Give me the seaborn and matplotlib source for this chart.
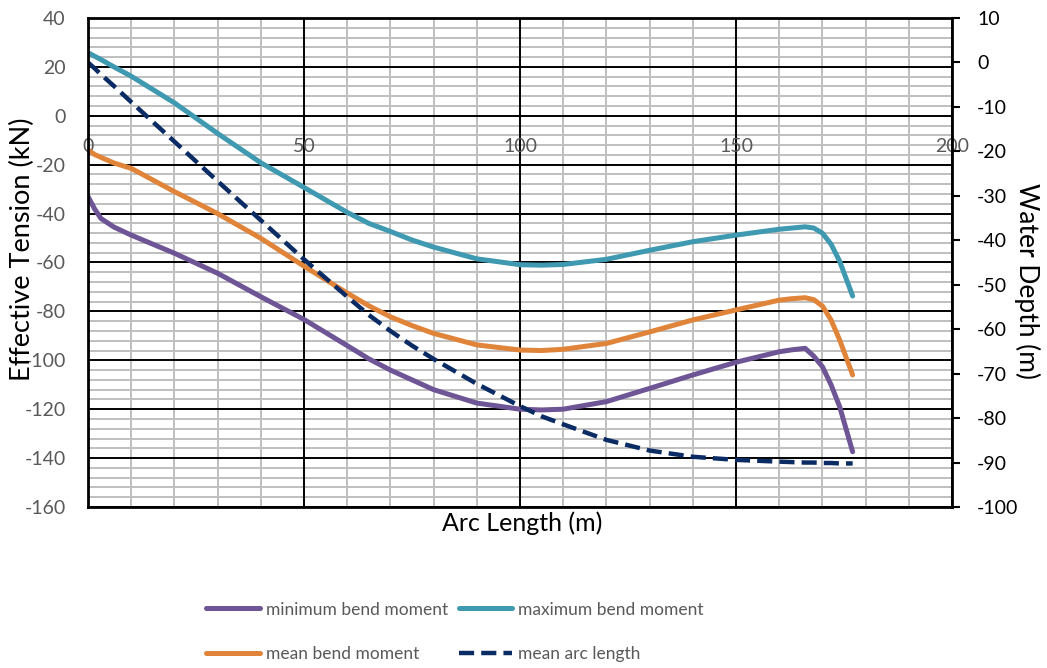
import matplotlib
matplotlib.use("Agg")
import matplotlib.pyplot as plt
import pandas as pd
import seaborn as sns
from matplotlib.ticker import MultipleLocator

# Arc length stations (m)
arc_length = [0, 1.5, 3, 6, 10, 20, 30, 40, 50, 60, 65, 70, 75, 80, 90, 100, 105, 110,
              120, 130, 140, 150, 160, 163, 166, 168, 170, 172, 174, 177]

# Effective tension envelopes (kN)
min_bend = [-33, -38, -42, -45.5, -48.8, -56.2, -64.4, -74, -83.3, -94, -99.4, -104,
            -108, -112, -117.5, -120, -120.3, -120, -116.9, -111.5, -106, -100.8,
            -96.5, -95.7, -95.1, -98.3, -102.6, -110, -119, -137.4]
max_bend = [25.8, 24.4, 23.0, 20.0, 16.2, 5.3, -7.2, -19.2, -29.3, -39.5, -44, -47.3,
            -50.8, -53.7, -58.5, -60.9, -61.1, -60.8, -58.7, -55, -51.5, -48.8, -46.4,
            -45.9, -45.4, -45.9, -48.0, -52.5, -59.5, -73.7]
mean_bend = [-14, -15.8, -17, -19.3, -21.5, -31, -40, -50.1, -61.5, -72.5, -77.7, -82.2,
             -85.8, -89, -93.7, -95.8, -96, -95.5, -93.1, -88.4, -83.5, -79.4, -75.4,
             -74.8, -74.4, -75.2, -77.8, -83.5, -91.7, -106]

# Water depth along the line (m)
water_depth = [0, -1.3, -2.7, -5.3, -8.9, -17.8, -26.7, -35.5, -44.3, -52.7, -56.8, -60.4,
               -63.7, -66.7, -72.3, -77.3, -79.6, -81.4, -84.9, -87.3, -88.7, -89.4,
               -89.8, -89.9, -90, -90, -90.1, -90.1, -90.2, -90.2]

series_names = ["minimum bend moment", "maximum bend moment", "mean bend moment"]
series_colors = ["#6E5596", "#3F99B1", "#E0843A"]
depth_name = "mean arc length"
depth_color = "#0A2B63"

x_ticks = [0, 50, 100, 150, 200]
left_ticks = list(range(-160, 41, 20))
right_ticks = list(range(-100, 11, 10))

sns.set_theme(style="white")
plt.rcParams["font.family"] = ["Lato", "DejaVu Sans"]
plt.rcParams["axes.unicode_minus"] = False

tension = pd.DataFrame({
    "arc": arc_length * 3,
    "value": min_bend + max_bend + mean_bend,
    "series": [n for n in series_names for _ in arc_length],
})
depth = pd.DataFrame({"arc": arc_length, "depth": water_depth})

fig = plt.figure(figsize=(10.47, 6.68), dpi=100)
pos = [88 / 1047, 1 - 507 / 668, 864 / 1047, 489 / 668]

# background axes carries only the light minor grid
axg = fig.add_axes(pos)
ax = fig.add_axes(pos, sharex=axg, sharey=axg)
ax.patch.set_visible(False)
ax2 = ax.twinx()

sns.lineplot(data=tension, x="arc", y="value", hue="series", hue_order=series_names,
             palette=series_colors, ax=ax, legend=False, linewidth=3.6,
             solid_capstyle="round", sort=False)
sns.lineplot(data=depth, x="arc", y="depth", ax=ax2, color=depth_color,
             linewidth=3.2, linestyle=(0, (3.4, 1.6)), sort=False)

# axis ranges and ticks
ax.set_xlim(0, 200)
ax.set_ylim(-160, 40)
ax2.set_ylim(-100, 10)
ax.set_xticks(x_ticks)
ax.xaxis.set_minor_locator(MultipleLocator(10))
ax.set_yticks(left_ticks)
ax.yaxis.set_minor_locator(MultipleLocator(4))
ax2.set_yticks(right_ticks)

# gridlines: grey minor underneath, black major on top
axg.grid(which="minor", color="#BFBFBF", linewidth=1.4)
axg.grid(which="major", visible=False)
axg.tick_params(which="both", length=0, labelleft=False, labelbottom=False)
for s in axg.spines.values():
    s.set_visible(False)
ax.set_axisbelow(True)
ax.grid(which="major", color="black", linewidth=1.4)
ax.grid(which="minor", visible=False)
ax2.grid(False)

# frame: the twin axes draw the box; the primary x axis sits at zero tension
for s in ax.spines.values():
    s.set_visible(False)
ax.spines["bottom"].set_position(("data", 0))
for s in ax2.spines.values():
    s.set_visible(True)
    s.set_color("black")
    s.set_linewidth(2)

ax.tick_params(axis="x", which="both", length=0, pad=16, labelsize=14,
               labelcolor="#595959")
ax.tick_params(axis="y", which="both", length=0, pad=16, labelsize=14,
               labelcolor="#595959")
ax2.tick_params(axis="y", which="major", direction="out", length=6, width=1.5,
                color="black", pad=12, labelsize=14, labelcolor="black", right=True)
ax2.tick_params(axis="y", which="minor", length=0)

ax.set_xlabel("Arc Length (m)", fontsize=18, color="black", va="top")
ax.xaxis.set_label_coords(0.503, -0.010)
ax.set_ylabel("Effective Tension (kN)", fontsize=19.5, color="black", va="center")
ax.yaxis.set_label_coords(-0.0760, 0.528)
ax2.set_ylabel("Water Depth (m)", fontsize=19, color="black", rotation=270, va="center")
ax2.yaxis.set_label_coords(1.0868, 0.462)

lines = ax.get_lines()[:3] + ax2.get_lines()[:1]
labels = series_names + [depth_name]
order = [0, 2, 1, 3]
leg = fig.legend([lines[i] for i in order], [labels[i] for i in order], ncol=2,
                 loc="center", bbox_to_anchor=(0.4346, 0.0545), frameon=False,
                 fontsize=12.5, handlelength=3.1, handletextpad=0.35,
                 columnspacing=0.6, labelspacing=1.62, borderpad=0)
for t in leg.get_texts():
    t.set_color("#595959")

fig.savefig("out.png", dpi=100)
